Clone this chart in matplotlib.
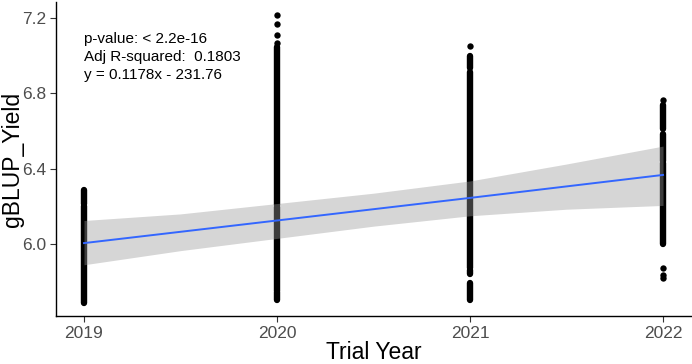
import matplotlib
matplotlib.use("Agg")
import matplotlib.pyplot as plt

plt.rcParams["font.family"] = ["Liberation Sans", "DejaVu Sans"]

# years on the x axis
years = [2019, 2020, 2021, 2022]

# dense stretches of points in each year (low, high)
runs_2019 = [(5.686, 6.200), (6.215, 6.287)]
runs_2020 = [(5.703, 5.745), (5.752, 6.195), (6.205, 7.046)]
runs_2021 = [(5.703, 5.793), (5.840, 5.862), (5.873, 6.913), (6.935, 6.998)]
runs_2022 = [(6.000, 6.430), (6.440, 6.585), (6.610, 6.738)]
runs = [runs_2019, runs_2020, runs_2021, runs_2022]

# single points sitting apart from the columns
lone_2019 = []
lone_2020 = [7.067, 7.110, 7.168, 7.216]
lone_2021 = [7.050]
lone_2022 = [6.765, 5.873, 5.835, 5.820]
lone = [lone_2019, lone_2020, lone_2021, lone_2022]

# fitted line and its confidence band
fit_x = [2019, 2019.5, 2020, 2020.5, 2021, 2021.5, 2022]
fit_y = [6.005, 6.065, 6.125, 6.185, 6.245, 6.306, 6.367]
band_lo = [5.890, 5.965, 6.030, 6.095, 6.150, 6.185, 6.205]
band_hi = [6.125, 6.160, 6.215, 6.270, 6.335, 6.425, 6.520]

note = "p-value: < 2.2e-16\nAdj R-squared:  0.1803\ny = 0.1178x - 231.76"

fig = plt.figure(figsize=(6.92, 3.64), dpi=100)
ax = fig.add_axes([56 / 692, 48 / 364, 636 / 692, 314 / 364])

# columns of points: thick round-capped segments plus separate dots
for yr, rr, pts in zip(years, runs, lone):
    for lo, hi in rr:
        ax.plot([yr, yr], [lo, hi], color="black", lw=4.6,
                solid_capstyle="round", zorder=2)
    if pts:
        ax.scatter([yr] * len(pts), pts, s=21, color="black",
                   linewidths=0, zorder=2)

ax.fill_between(fit_x, band_lo, band_hi, color="#999999", alpha=0.4,
                linewidth=0, zorder=3)
ax.plot(fit_x, fit_y, color="#3366FF", lw=1.4, zorder=4)

ax.text(2019.0, 7.125, note, fontsize=11, va="top", ha="left",
        linespacing=1.35)

ax.set_xlim(2018.855, 2022.15)
ax.set_ylim(5.618, 7.285)
ax.set_xticks(years)
ax.set_yticks([6.0, 6.4, 6.8, 7.2])
ax.set_yticklabels(["6.0", "6.4", "6.8", "7.2"])
ax.tick_params(colors="#333333", labelcolor="#4d4d4d", labelsize=12.5,
               length=4, width=0.8)
ax.tick_params(axis="y", pad=3)
ax.set_xlabel("Trial Year", fontsize=16.5, va="bottom")
ax.xaxis.set_label_coords(0.5, -48 / 314)
ax.set_ylabel("gBLUP_Yield", fontsize=16.5, va="center")
ax.yaxis.set_label_coords(-0.068, 0.5)

for side in ["top", "right"]:
    ax.spines[side].set_visible(False)
for side in ["left", "bottom"]:
    ax.spines[side].set_linewidth(1.0)

fig.savefig("out.png", dpi=100)
